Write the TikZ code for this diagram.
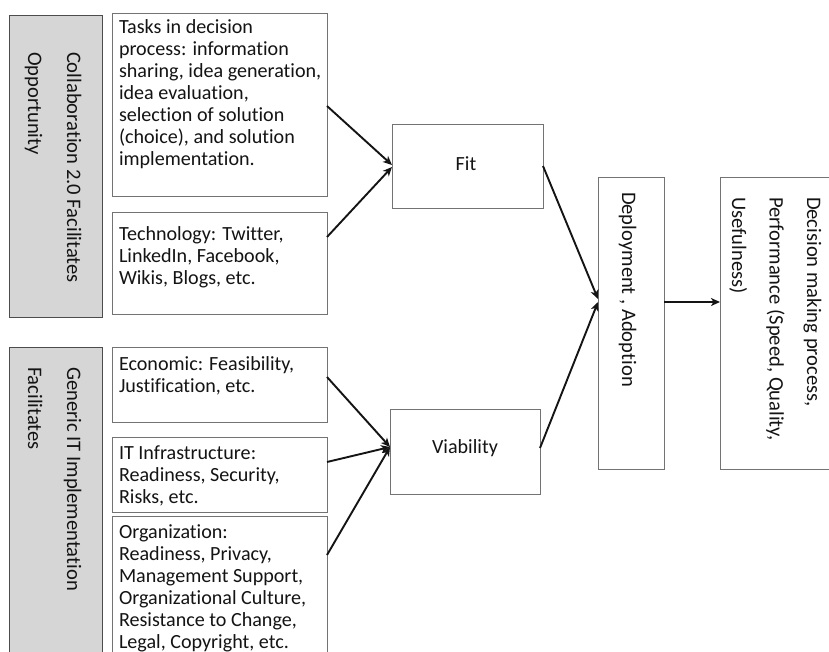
\documentclass[tikz,border=0pt]{standalone}
\usepackage{fontspec}
\setmainfont{Carlito}[Ligatures=NoCommon]
\usetikzlibrary{arrows.meta}
\newcommand{\mylines}[2]{\vtop{\baselineskip=#1\lineskiplimit=-100pt #2}}
\begin{document}
\begin{tikzpicture}[x=1pt,y=-1pt,
  whitebox/.style={draw=black!55,line width=0.9pt,fill=white,inner sep=0pt,outer sep=0pt,anchor=north west},
  graybox/.style={draw=black!70,line width=0.9pt,fill=black!16,inner sep=0pt,outer sep=0pt,anchor=north west},
  txt/.style={inner sep=0pt,outer sep=0pt,anchor=base west,text=black!92,font=\fontsize{20.1}{22}\selectfont},
  rtxt/.style={txt,rotate=-90,font=\fontsize{20.6}{22}\selectfont},
  ctxt/.style={txt,anchor=base},
  arr/.style={line width=1.9pt,-{Stealth[length=9pt,width=8pt,inset=2.5pt]},black!92}]
\useasboundingbox (0,0) rectangle (829,651);
\clip (0,0) rectangle (829,651);
% left gray boxes
\node[graybox,minimum width=93pt,minimum height=302pt] (g1) at (9,15) {};
\node[graybox,minimum width=93pt,minimum height=320pt] (g2) at (9,347) {};
% white input boxes
\node[whitebox,minimum width=215pt,minimum height=183pt] (tasks) at (112,13) {};
\node[whitebox,minimum width=215pt,minimum height=102pt] (tech) at (112,212) {};
\node[whitebox,minimum width=215pt,minimum height=75pt] (econ) at (112,347) {};
\node[whitebox,minimum width=215pt,minimum height=75pt] (itinf) at (112,437) {};
\node[whitebox,minimum width=215pt,minimum height=150pt] (org) at (112,516) {};
% middle boxes
\node[whitebox,minimum width=151pt,minimum height=84pt] (fit) at (392,124) {};
\node[whitebox,minimum width=150pt,minimum height=85pt] (viab) at (390,409) {};
\node[whitebox,minimum width=66pt,minimum height=292pt] (deploy) at (598,177) {};
\node[whitebox,minimum width=130pt,minimum height=292pt] (dec) at (720,177) {};
% texts
\node[rtxt] (t-g1) at (67,52) {\mylines{39pt}{\hbox{Collaboration 2.0 Facilitates}\hbox{Opportunity}}};
\node[rtxt] (t-g2) at (67,367) {\mylines{39pt}{\hbox{Generic IT Implementation}\hbox{Facilitates}}};
\node[txt] (t-tasks) at (119,33) {\mylines{22pt}{\hbox{Tasks in decision}\hbox{process: information}\hbox{sharing, idea generation,}\hbox{idea evaluation,}\hbox{selection of solution}\hbox{(choice), and solution}\hbox{implementation.}}};
\node[txt] (t-tech) at (119,240) {\mylines{22pt}{\hbox{Technology: Twitter,}\hbox{LinkedIn, Facebook,}\hbox{Wikis, Blogs, etc.}}};
\node[txt] (t-econ) at (119,370) {\mylines{22pt}{\hbox{Economic: Feasibility,}\hbox{Justification, etc.}}};
\node[txt] (t-it) at (119,459) {\mylines{22pt}{\hbox{IT Infrastructure:}\hbox{Readiness, Security,}\hbox{Risks, etc.}}};
\node[txt] (t-org) at (119,538) {\mylines{22pt}{\hbox{Organization:}\hbox{Readiness, Privacy,}\hbox{Management Support,}\hbox{Organizational Culture,}\hbox{Resistance to Change,}\hbox{Legal, Copyright, etc.}}};
\node[ctxt] (t-fit) at (466,170) {Fit};
\node[ctxt] (t-viab) at (465,453) {Viability};
\node[rtxt] (t-dep) at (622,192) {Deployment , Adoption};
\node[rtxt] (t-dec) at (807,197) {\mylines{37.5pt}{\hbox{Decision making process,}\hbox{Performance (Speed, Quality,}\hbox{Usefulness)}}};
% arrows
\draw[arr] ([yshift=-1.5pt]tasks.east) -- ([yshift=1pt]fit.west);
\draw[arr] ([yshift=-25pt]tech.north east) -- ([yshift=-1pt]fit.west);
\draw[arr] ([yshift=-30pt]econ.north east) -- ([yshift=4.5pt]viab.west);
\draw[arr] ([yshift=-25pt]itinf.north east) -- ([yshift=4.5pt]viab.west);
\draw[arr] ([yshift=-39pt]org.north east) -- ([yshift=4.5pt]viab.west);
\draw[arr] (fit.east) -- ([yshift=24pt]deploy.west);
\draw[arr] ([yshift=3.5pt]viab.east) -- ([yshift=21pt]deploy.west);
\draw[arr] ([yshift=21pt]deploy.east) -- ([yshift=21pt]dec.west);
\end{tikzpicture}
\end{document}
